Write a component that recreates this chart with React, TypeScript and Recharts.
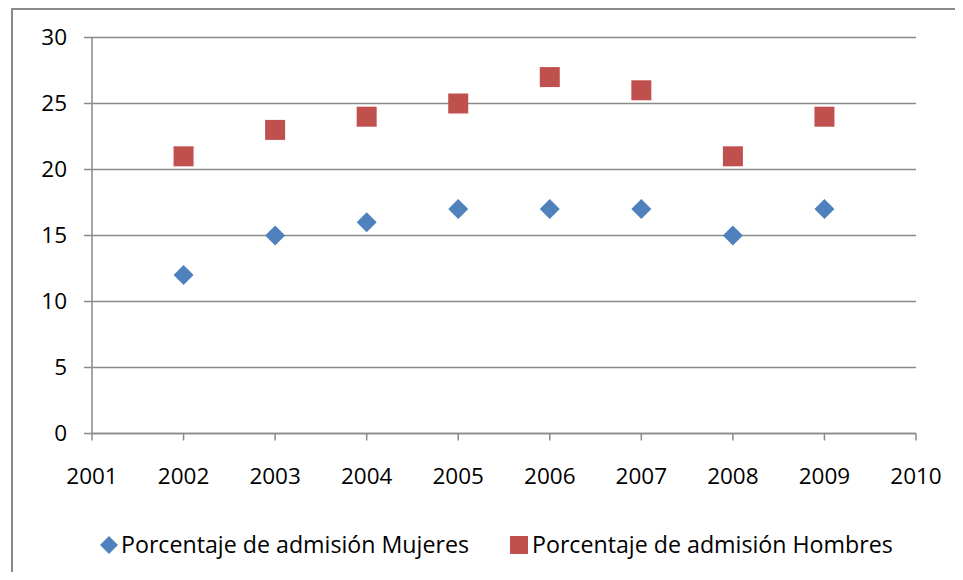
import React from 'react';
import { ScatterChart, Scatter, XAxis, YAxis, CartesianGrid } from 'recharts';

const years = [2002, 2003, 2004, 2005, 2006, 2007, 2008, 2009];
const mujeres = [12, 15, 16, 17, 17, 17, 15, 17];
const hombres = [21, 23, 24, 25, 27, 26, 21, 24];
const xTicks = [2001, 2002, 2003, 2004, 2005, 2006, 2007, 2008, 2009, 2010];
const yTicks = [0, 5, 10, 15, 20, 25, 30];
const seriesNames = ['Porcentaje de admisión Mujeres', 'Porcentaje de admisión Hombres'];

const BLUE = '#4F81BD';
const RED = '#C0504D';
const GRAY = '#8a8a8a';
const FONT = '"Open Sans", Lato, sans-serif';

const mujeresData = years.map((x, i) => ({ x, y: mujeres[i] }));
const hombresData = years.map((x, i) => ({ x, y: hombres[i] }));

const Diamond = (props: any) => {
  const { cx, cy } = props;
  const r = 10;
  return (
    <polygon
      points={`${cx},${cy - r} ${cx + r},${cy} ${cx},${cy + r} ${cx - r},${cy}`}
      fill={BLUE}
    />
  );
};

const Square = (props: any) => {
  const { cx, cy } = props;
  return <rect x={cx - 10} y={cy - 10} width={20} height={20} fill={RED} />;
};

const tickStyle = { fill: '#000', fontSize: 22.5, fontFamily: FONT };

const legendText: React.CSSProperties = {
  position: 'absolute',
  top: 521,
  fontSize: 23.2,
  lineHeight: '30px',
  color: '#000',
  whiteSpace: 'nowrap',
};

export default function App() {
  return (
    <div style={{ position: 'relative', width: 947, height: 564, fontFamily: FONT }}>
      <div
        style={{
          position: 'absolute',
          left: 3,
          top: 0,
          width: 942,
          height: 562,
          borderLeft: `2px solid ${GRAY}`,
          borderTop: `2px solid ${GRAY}`,
        }}
      />
      <div style={{ position: 'absolute', left: 0, top: 0 }}>
        <ScatterChart
          width={947}
          height={564}
          margin={{ top: 29.5, right: 39, left: 0, bottom: 98.5 }}
        >
          <CartesianGrid vertical={false} stroke={GRAY} strokeWidth={1.5} />
          <XAxis
            type="number"
            dataKey="x"
            domain={[2001, 2010]}
            ticks={xTicks}
            interval={0}
            height={40}
            stroke={GRAY}
            strokeWidth={1.5}
            tickSize={7}
            tickMargin={28}
            tick={tickStyle}
          />
          <YAxis
            type="number"
            dataKey="y"
            domain={[0, 30]}
            ticks={yTicks}
            interval={0}
            width={84}
            stroke={GRAY}
            strokeWidth={1.5}
            tickSize={8}
            tickMargin={17}
            tick={tickStyle}
          />
          <Scatter data={mujeresData} shape={Diamond} isAnimationActive={false} />
          <Scatter data={hombresData} shape={Square} isAnimationActive={false} />
        </ScatterChart>
      </div>
      <svg width={20} height={20} style={{ position: 'absolute', left: 91, top: 527 }}>
        <polygon points="10,1 19,10 10,19 1,10" fill={BLUE} />
      </svg>
      <span style={{ ...legendText, left: 113 }}>{seriesNames[0]}</span>
      <svg width={18} height={18} style={{ position: 'absolute', left: 502, top: 528 }}>
        <rect x={0} y={0} width={18} height={18} fill={RED} />
      </svg>
      <span style={{ ...legendText, left: 524 }}>{seriesNames[1]}</span>
    </div>
  );
}
